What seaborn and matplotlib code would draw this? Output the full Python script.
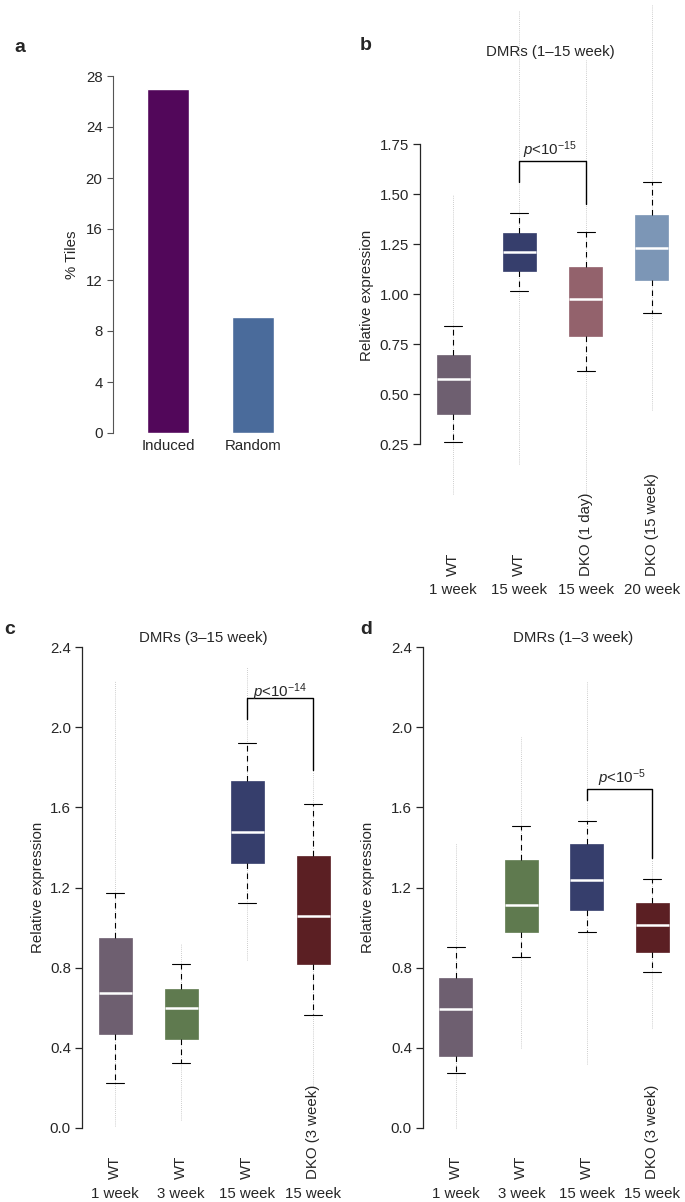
import matplotlib
matplotlib.use("Agg")
import matplotlib.pyplot as plt
import matplotlib.transforms as mtransforms
import seaborn as sns

# Panel a: % tiles
bar_cats = ["Induced", "Random"]
bar_vals = [27.0, 9.1]
bar_colors = ["#52075a", "#4a6b9b"]

# Panel b: DMRs (1-15 week)
groups_b = ["WT", "WT", "DKO (1 day)", "DKO (15 week)"]
ages_b = ["1 week", "15 week", "15 week", "20 week"]
colors_b = ["#6e5f70", "#363e6c", "#93626c", "#7c96b6"]
q1_b = [0.40, 1.115, 0.79, 1.07]
med_b = [0.575, 1.21, 0.975, 1.23]
q3_b = [0.695, 1.305, 1.135, 1.395]
wlo_b = [0.26, 1.015, 0.615, 0.905]
whi_b = [0.84, 1.405, 1.31, 1.56]
out_lo_b = [0.0, 0.15, 0.0, 0.42]
out_hi_b = [1.50, 2.42, 2.17, 2.45]

# Panel c: DMRs (3-15 week)
groups_c = ["WT", "WT", "WT", "DKO (3 week)"]
ages_c = ["1 week", "3 week", "15 week", "15 week"]
colors_c = ["#6e5f70", "#5f7a4f", "#363e6c", "#5b1f23"]
q1_c = [0.47, 0.445, 1.32, 0.82]
med_c = [0.675, 0.60, 1.475, 1.06]
q3_c = [0.95, 0.695, 1.73, 1.355]
wlo_c = [0.225, 0.325, 1.125, 0.565]
whi_c = [1.175, 0.82, 1.92, 1.615]
out_lo_c = [0.01, 0.04, 0.84, 0.21]
out_hi_c = [2.23, 0.92, 2.30, 1.92]

# Panel d: DMRs (1-3 week)
groups_d = ["WT", "WT", "WT", "DKO (3 week)"]
ages_d = ["1 week", "3 week", "15 week", "15 week"]
colors_d = ["#6e5f70", "#5f7a4f", "#363e6c", "#5b1f23"]
q1_d = [0.36, 0.98, 1.09, 0.88]
med_d = [0.595, 1.115, 1.235, 1.015]
q3_d = [0.75, 1.335, 1.415, 1.125]
wlo_d = [0.275, 0.855, 0.98, 0.78]
whi_d = [0.905, 1.505, 1.53, 1.24]
out_lo_d = [0.0, 0.40, 0.32, 0.50]
out_hi_d = [1.42, 1.95, 2.23, 1.35]

sns.set_style("ticks")
plt.rcParams["font.family"] = ["Liberation Sans", "DejaVu Sans"]
plt.rcParams["mathtext.fontset"] = "custom"
plt.rcParams["mathtext.rm"] = "Liberation Sans"
plt.rcParams["mathtext.it"] = "Liberation Sans:italic"

FS = 10.8
W, H = 685, 1202
fig = plt.figure(figsize=(W / 100, H / 100), dpi=100)


def place(l, t, r, b):
    # pixel box -> figure fraction
    return [l / W, 1 - b / H, (r - l) / W, (b - t) / H]


def ftext(x, y, s, **kw):
    fig.text(x / W, 1 - y / H, s, **kw)


# ---- panel a ----
ax_a = fig.add_axes(place(113, 76, 308, 433))
sns.barplot(x=bar_cats, y=bar_vals, hue=bar_cats, palette=bar_colors,
            legend=False, width=0.5, saturation=1, ax=ax_a)
ax_a.set_ylim(0, 28)
ax_a.set_xlim(-0.65, 1.65)
ax_a.set_yticks(range(0, 29, 4))
for s in ["top", "right", "bottom"]:
    ax_a.spines[s].set_visible(False)
ax_a.spines["left"].set_color("#555555")
ax_a.tick_params(axis="y", length=4, width=0.8, color="#555555", labelsize=FS)
ax_a.tick_params(axis="x", length=0, labelsize=FS, pad=4)
ax_a.set_ylabel("")
ftext(72, 255, "% Tiles", rotation=90, ha="center", va="center", fontsize=FS)


def box_panel(rect, ylim, spine_lo, spine_hi, ticks, ticklabels,
              q1, med, q3, wlo, whi, olo, ohi, colors, groups, ages,
              rot_y, age_y, bracket):
    ax = fig.add_axes(place(*rect))
    pos = list(range(len(med)))
    # faint outlier tracks
    ax.vlines(pos, olo, ohi, colors="#bdbdbd", linestyles=(0, (1, 1.5)),
              linewidth=0.6, zorder=1)
    stats = []
    for i in pos:
        stats.append(dict(q1=q1[i], med=med[i], q3=q3[i],
                          whislo=wlo[i], whishi=whi[i], fliers=[]))
    bp = ax.bxp(stats, positions=pos, widths=0.5, capwidths=0.27,
                patch_artist=True, showfliers=False,
                boxprops=dict(linewidth=0.5),
                medianprops=dict(color="white", linewidth=1.8),
                whiskerprops=dict(color="black", linewidth=0.8,
                                  linestyle=(0, (5, 4))),
                capprops=dict(color="black", linewidth=0.8),
                zorder=2)
    for patch, c in zip(bp["boxes"], colors):
        patch.set_facecolor(c)
        patch.set_edgecolor(c)
    ax.set_xlim(-0.5, len(med) - 0.5)
    ax.set_ylim(*ylim)
    ax.set_yticks(ticks)
    ax.set_yticklabels(ticklabels)
    for s in ["top", "right", "bottom"]:
        ax.spines[s].set_visible(False)
    ax.spines["left"].set_bounds(spine_lo, spine_hi)
    ax.spines["left"].set_linewidth(0.9)
    ax.tick_params(axis="y", length=5, width=0.9, labelsize=FS, pad=3)
    ax.set_xticks([])
    tr = mtransforms.blended_transform_factory(ax.transData, fig.transFigure)
    for i in pos:
        ax.text(i, 1 - rot_y / H, groups[i], rotation=90, ha="center",
                va="bottom", fontsize=FS, transform=tr)
        ax.text(i, 1 - age_y / H, ages[i], ha="center", va="center",
                fontsize=FS, transform=tr)
    # significance bracket
    a, b, top, leg_a, leg_b = bracket
    ax.plot([a, a, b, b], [leg_a, top, top, leg_b], color="black",
            linewidth=1.0, zorder=3)
    return ax


ax_b = box_panel((420, 0, 685, 504), (-0.05, 2.47), 0.25, 1.75,
                 [0.25, 0.5, 0.75, 1.0, 1.25, 1.5, 1.75],
                 ["0.25", "0.50", "0.75", "1.00", "1.25", "1.50", "1.75"],
                 q1_b, med_b, q3_b, wlo_b, whi_b, out_lo_b, out_hi_b,
                 colors_b, groups_b, ages_b, 576, 590,
                 (1, 2, 1.665, 1.56, 1.45))
ax_c = box_panel((82, 637, 346, 1138), (-0.05, 2.45), 0.0, 2.4,
                 [0.0, 0.4, 0.8, 1.2, 1.6, 2.0, 2.4],
                 ["0.0", "0.4", "0.8", "1.2", "1.6", "2.0", "2.4"],
                 q1_c, med_c, q3_c, wlo_c, whi_c, out_lo_c, out_hi_c,
                 colors_c, groups_c, ages_c, 1179, 1194,
                 (2, 3, 2.145, 2.04, 1.785))
ax_d = box_panel((423, 637, 685, 1138), (-0.05, 2.45), 0.0, 2.4,
                 [0.0, 0.4, 0.8, 1.2, 1.6, 2.0, 2.4],
                 ["0.0", "0.4", "0.8", "1.2", "1.6", "2.0", "2.4"],
                 q1_d, med_d, q3_d, wlo_d, whi_d, out_lo_d, out_hi_d,
                 colors_d, groups_d, ages_d, 1179, 1194,
                 (2, 3, 1.69, 1.635, 1.345))

# titles, p-values, axis labels, panel letters
ftext(550, 52, "DMRs (1\u201315 week)", ha="center", va="center", fontsize=FS)
ftext(203, 638, "DMRs (3\u201315 week)", ha="center", va="center", fontsize=FS)
ftext(573, 638, "DMRs (1\u20133 week)", ha="center", va="center", fontsize=FS)

ftext(550, 150, r"$p$<10$^{\mathregular{-15}}$", ha="center", va="center", fontsize=FS)
ftext(280, 692, r"$p$<10$^{\mathregular{-14}}$", ha="center", va="center", fontsize=FS)
ftext(622, 778, r"$p$<10$^{\mathregular{-5}}$", ha="center", va="center", fontsize=FS)

ftext(367, 295, "Relative expression", rotation=90, ha="center", va="center", fontsize=FS)
ftext(38, 887, "Relative expression", rotation=90, ha="center", va="center", fontsize=FS)
ftext(368, 887, "Relative expression", rotation=90, ha="center", va="center", fontsize=FS)

ftext(20, 48, "a", ha="center", va="center", fontsize=14, fontweight="bold")
ftext(366, 45, "b", ha="center", va="center", fontsize=14, fontweight="bold")
ftext(10, 630, "c", ha="center", va="center", fontsize=14, fontweight="bold")
ftext(366, 630, "d", ha="center", va="center", fontsize=14, fontweight="bold")

fig.savefig("out.png", dpi=100)
